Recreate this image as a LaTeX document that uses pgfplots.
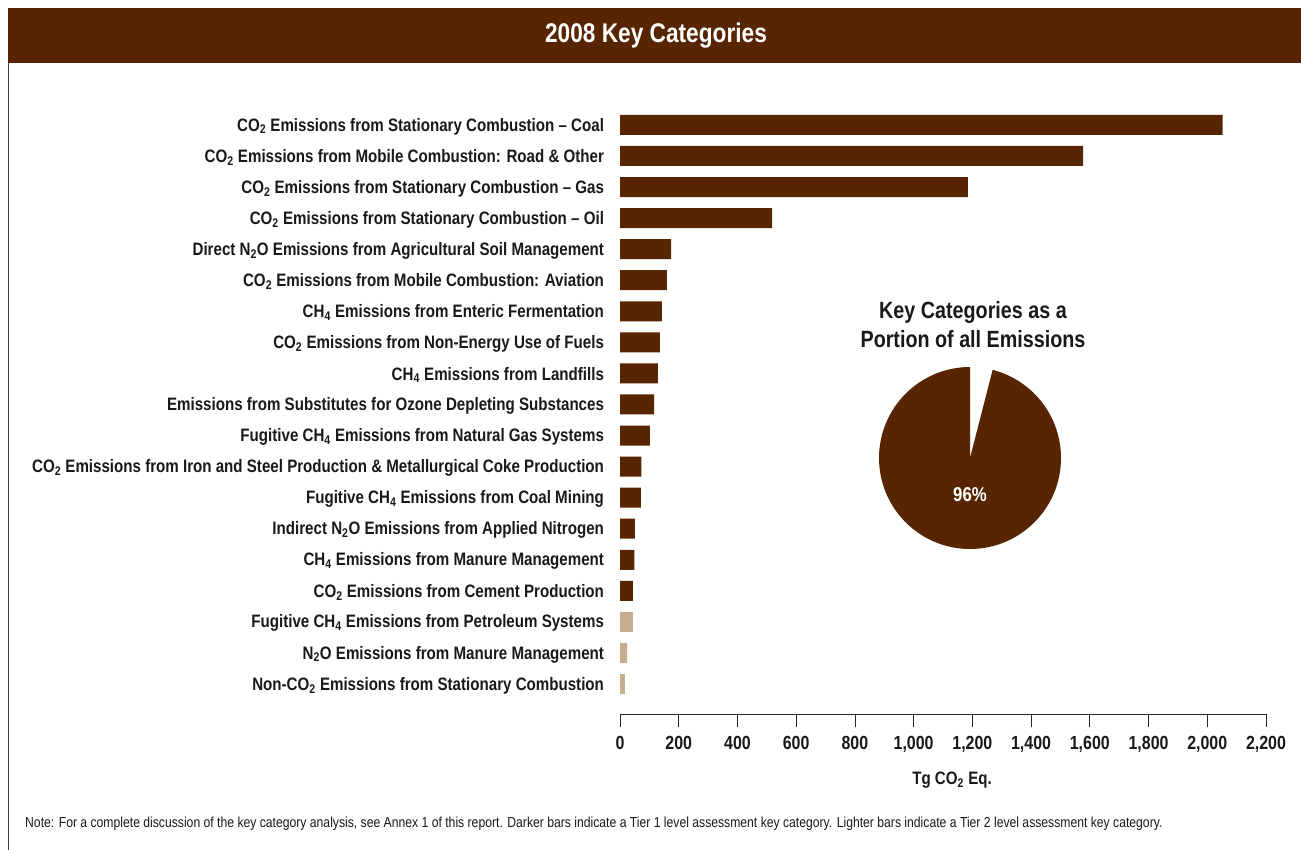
\documentclass[border=0pt]{standalone}
\usepackage{fontspec}
\setmainfont{Liberation Sans}[FakeStretch=0.84]
\newfontfamily\notefont{Liberation Sans}[FakeStretch=0.84]
\usepackage{pgfplots}
\usepackage{pgfplotstable}
\pgfplotsset{compat=1.18}
\definecolor{dbrown}{RGB}{87,37,0}
\definecolor{lbrown}{RGB}{201,173,143}

% pos: 18 = top category, 0 = bottom category
\pgfplotstableread{
pos val
18 2052
17 1577
16 1185
15 518
14 174
13 160
12 143
11 136
10 129
9 116
8 102
7 73
6 71
5 51
4 49
3 44
}\darkdata
\pgfplotstableread{
pos val
2 44
1 24
0 17
}\lightdata
\def\keyshare{96}

\begin{document}
\begin{tikzpicture}
\useasboundingbox (0pt,0pt) rectangle (1301pt,-850pt);
% header
\fill[dbrown] (8pt,-8pt) rectangle (1301pt,-63pt);
\node[text=white, font=\bfseries\fontsize{27}{31}\selectfont] at (656pt,-36pt) {2008 Key Categories};
\draw[line width=0.8pt, black!75] (8pt,-63pt) -- (8pt,-850pt);

\begin{axis}[
  at={(620pt,-714pt)}, anchor=south west,
  scale only axis, width=646pt, height=604.6pt,
  xmin=0, xmax=2200, ymin=-0.966, ymax=18.5,
  xbar, bar width=20pt,
  axis x line=bottom, axis y line=left,
  x axis line style={-, line width=0.8pt, black!85},
  y axis line style={draw=none},
  xtick={0,200,...,2200}, xtick align=outside,
  major tick length=13pt,
  x tick style={line width=0.8pt, black!85},
  ytick={0,...,18}, y tick style={draw=none},
  yticklabels={
    Non-CO\textsubscript{2} Emissions from Stationary Combustion,
    N\textsubscript{2}O Emissions from Manure Management,
    Fugitive CH\textsubscript{4} Emissions from Petroleum Systems,
    CO\textsubscript{2} Emissions from Cement Production,
    CH\textsubscript{4} Emissions from Manure Management,
    Indirect N\textsubscript{2}O Emissions from Applied Nitrogen,
    Fugitive CH\textsubscript{4} Emissions from Coal Mining,
    CO\textsubscript{2} Emissions from Iron and Steel Production \& Metallurgical Coke Production,
    Fugitive CH\textsubscript{4} Emissions from Natural Gas Systems,
    Emissions from Substitutes for Ozone Depleting Substances,
    CH\textsubscript{4} Emissions from Landfills,
    CO\textsubscript{2} Emissions from Non-Energy Use of Fuels,
    CH\textsubscript{4} Emissions from Enteric Fermentation,
    CO\textsubscript{2} Emissions from Mobile Combustion: Aviation,
    Direct N\textsubscript{2}O Emissions from Agricultural Soil Management,
    CO\textsubscript{2} Emissions from Stationary Combustion -- Oil,
    CO\textsubscript{2} Emissions from Stationary Combustion -- Gas,
    CO\textsubscript{2} Emissions from Mobile Combustion: Road \& Other,
    CO\textsubscript{2} Emissions from Stationary Combustion -- Coal},
  yticklabel style={font=\bfseries\fontsize{18}{21}\selectfont, anchor=east, xshift=-6pt, yshift=-1.5pt, text=black!90},
  xticklabel style={font=\bfseries\fontsize{19}{22}\selectfont, text=black!90, yshift=-6pt},
  /pgf/number format/1000 sep={,},
  /pgf/number format/assume math mode=true,
  xlabel={Tg CO\textsubscript{2} Eq.},
  xlabel style={at={(axis description cs:0.514,0)}, anchor=center, yshift=-66pt,
    font=\bfseries\fontsize{18}{21}\selectfont, text=black!90},
  clip=false,
]
\addplot[fill=dbrown, draw=none, bar shift=0pt] table[x=val, y=pos] {\darkdata};
\addplot[fill=lbrown, draw=none, bar shift=0pt] table[x=val, y=pos] {\lightdata};
\end{axis}

% pie
\pgfmathsetmacro\endang{90+3.6*\keyshare}
\fill[dbrown] (970pt,-458pt) -- ++(90:91pt) arc[start angle=90, end angle=\endang, radius=91pt] -- cycle;
\node[text=white, font=\bfseries\fontsize{20}{24}\selectfont] at (970pt,-495pt) {\keyshare\%};
\node[align=center, text=black!90, font=\bfseries\fontsize{23.5}{29}\selectfont] at (973pt,-325pt)
  {Key Categories as a\\Portion of all Emissions};

% note
\node[anchor=west, inner sep=0pt, text=black!90, font=\notefont\fontsize{14.5}{17}\selectfont] at (25pt,-824pt)
  {Note: For a complete discussion of the key category analysis, see Annex 1 of this report. Darker bars indicate a Tier 1 level assessment key category. Lighter bars indicate a Tier 2 level assessment key category.};
\end{tikzpicture}
\end{document}
